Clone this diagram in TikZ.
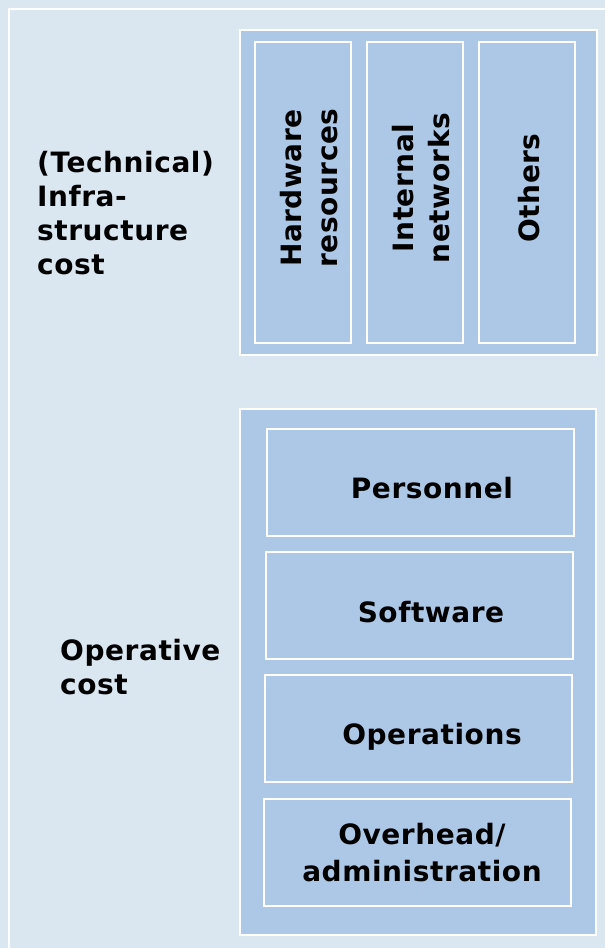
\documentclass[tikz,border=0pt]{standalone}
\usepackage{fontspec}
\setmainfont{DejaVu Sans}[LetterSpace=2]
\definecolor{bgblue}{RGB}{218,230,240}
\definecolor{boxblue}{RGB}{173,200,230}
\tikzset{
  panel/.style={fill=boxblue,draw=white,line width=2pt},
  txt/.style={align=center,inner sep=0pt,font=\bfseries\fontsize{28}{37}\selectfont},
  vtxt/.style={txt,rotate=90,font=\bfseries\fontsize{28}{36}\selectfont},
  side/.style={align=left,inner sep=0pt,font=\bfseries\fontsize{28}{34}\selectfont},
}
\begin{document}
\begin{tikzpicture}[x=1pt,y=-1pt]
  \fill[bgblue] (0,0) rectangle (605,948);
  \useasboundingbox (0,0) rectangle (605,948);
  \draw[white,line width=2pt] (9,948) |- (605,9);
  % infrastructure
  \node[panel,minimum width=357,minimum height=325] (infra) at (418.5,192.5) {};
  \node[panel,minimum width=96,minimum height=301] (hw) at (303,192) {};
  \node[panel,minimum width=96,minimum height=301] (net) at (415,192) {};
  \node[panel,minimum width=96,minimum height=301] (oth) at (527,192) {};
  \node[vtxt] (hwlbl) at ([xshift=6,yshift=4]hw.center) {Hardware\\resources};
  \node[vtxt] (netlbl) at ([xshift=6,yshift=4]net.center) {Internal\\networks};
  \node[vtxt] (othlbl) at ([xshift=2,yshift=4]oth.center) {Others};
  \node[side,anchor=north west] (infralbl) at (37,151) {(Technical)\\Infra-\\structure\\cost};
  % operative
  \node[panel,minimum width=356,minimum height=526] (oper) at (418,672) {};
  \node[panel,minimum width=307,minimum height=107] (pers) at (420,482) {};
  \node[panel,minimum width=307,minimum height=107] (soft) at (419,605) {};
  \node[panel,minimum width=307,minimum height=107] (ops) at (418,728) {};
  \node[panel,minimum width=307,minimum height=107] (ovh) at (417,852) {};
  \node[txt,anchor=base] (perslbl) at ([xshift=12,yshift=-16]pers.center) {Personnel};
  \node[txt,anchor=base] (softlbl) at ([xshift=12,yshift=-17]soft.center) {Software};
  \node[txt,anchor=base] (opslbl) at ([xshift=14,yshift=-16]ops.center) {Operations};
  \node[txt,anchor=north] (ovhlbl) at ([xshift=5,yshift=29]ovh.center) {Overhead/\\administration};
  \node[side,anchor=north west] (operlbl) at (60,639) {Operative\\cost};
\end{tikzpicture}
\end{document}
